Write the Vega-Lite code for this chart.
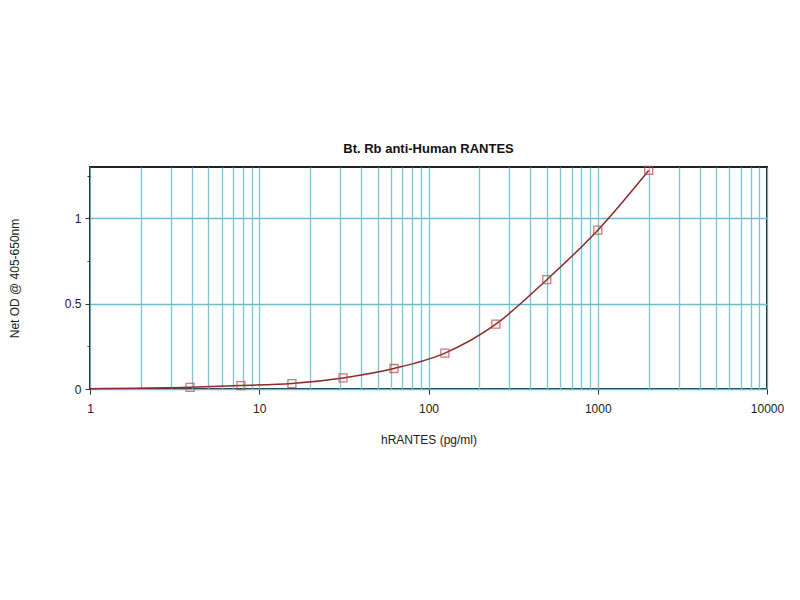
{
  "$schema": "https://vega.github.io/schema/vega-lite/v6.json",
  "autosize": "none",
  "width": 677,
  "height": 222,
  "padding": {"left": 90, "top": 167, "right": 33, "bottom": 211},
  "background": "white",
  "title": {"text": "Bt. Rb anti-Human RANTES", "font": "Liberation Sans", "fontSize": 13, "fontWeight": "bold", "color": "#111", "offset": 8},
  "config": {
    "view": {"stroke": "#222", "strokeWidth": 2},
    "axis": {"labelFont": "Liberation Sans", "titleFont": "Liberation Sans", "labelFontSize": 12, "titleFontSize": 12, "titleFontWeight": "normal", "labelColor": "#222", "titleColor": "#222", "domain": false, "tickColor": "#333"}
  },
  "datasets": {
    "curve": [
      {"conc": 1, "od": 0.002},
      {"conc": 3.9, "od": 0.01},
      {"conc": 7.8, "od": 0.02},
      {"conc": 15.6, "od": 0.032},
      {"conc": 31.25, "od": 0.065},
      {"conc": 62.5, "od": 0.12},
      {"conc": 125, "od": 0.21},
      {"conc": 250, "od": 0.38},
      {"conc": 500, "od": 0.64},
      {"conc": 1000, "od": 0.93},
      {"conc": 2000, "od": 1.28}
    ],
    "standards": [
      {"conc": 3.9, "od": 0.01},
      {"conc": 7.8, "od": 0.02},
      {"conc": 15.6, "od": 0.032},
      {"conc": 31.25, "od": 0.065},
      {"conc": 62.5, "od": 0.12},
      {"conc": 125, "od": 0.21},
      {"conc": 250, "od": 0.38},
      {"conc": 500, "od": 0.64},
      {"conc": 1000, "od": 0.93},
      {"conc": 2000, "od": 1.28}
    ]
  },
  "encoding": {
    "x": {"field": "conc", "type": "quantitative", "scale": {"type": "log", "domain": [1, 10000], "nice": false},
      "axis": {"title": "hRANTES (pg/ml)", "titlePadding": 20,
        "values": [1,2,3,4,5,6,7,8,9,10,20,30,40,50,60,70,80,90,100,200,300,400,500,600,700,800,900,1000,2000,3000,4000,5000,6000,7000,8000,9000,10000],
        "labelExpr": "indexof(['1','10','100','1000','10000'], '' + datum.value) >= 0 ? '' + datum.value : ''",
        "labelFlush": false, "labelPadding": 9,
        "tickSize": {"condition": {"test": "indexof([1,10,100,1000,10000], datum.value) >= 0", "value": 5}, "value": 0},
        "gridColor": "#6bbfca", "gridWidth": 1.3, "gridOpacity": 0.9}},
    "y": {"field": "od", "type": "quantitative", "scale": {"domain": [0, 1.3], "nice": false},
      "axis": {"title": "Net OD @ 405-650nm", "titlePadding": 43,
        "values": [0, 0.25, 0.5, 0.75, 1, 1.25],
        "labelExpr": "datum.value == 0.25 || datum.value == 0.75 || datum.value == 1.25 ? '' : '' + datum.value",
        "tickSize": {"condition": {"test": "datum.value == 0.25 || datum.value == 0.75 || datum.value == 1.25", "value": 3}, "value": 5},
        "gridColor": {"condition": {"test": "datum.value == 0.25 || datum.value == 0.75 || datum.value == 1.25", "value": "transparent"}, "value": "#6bbfca"},
        "gridWidth": 1.3, "labelPadding": 4}}
  },
  "layer": [
    {"data": {"name": "curve"}, "mark": {"type": "line", "interpolate": "monotone", "color": "#8a2a2a", "strokeWidth": 1.5}},
    {"data": {"name": "standards"}, "mark": {"type": "point", "shape": "square", "size": 64, "filled": false, "color": "#c0403d", "strokeWidth": 1.3}}
  ]
}
